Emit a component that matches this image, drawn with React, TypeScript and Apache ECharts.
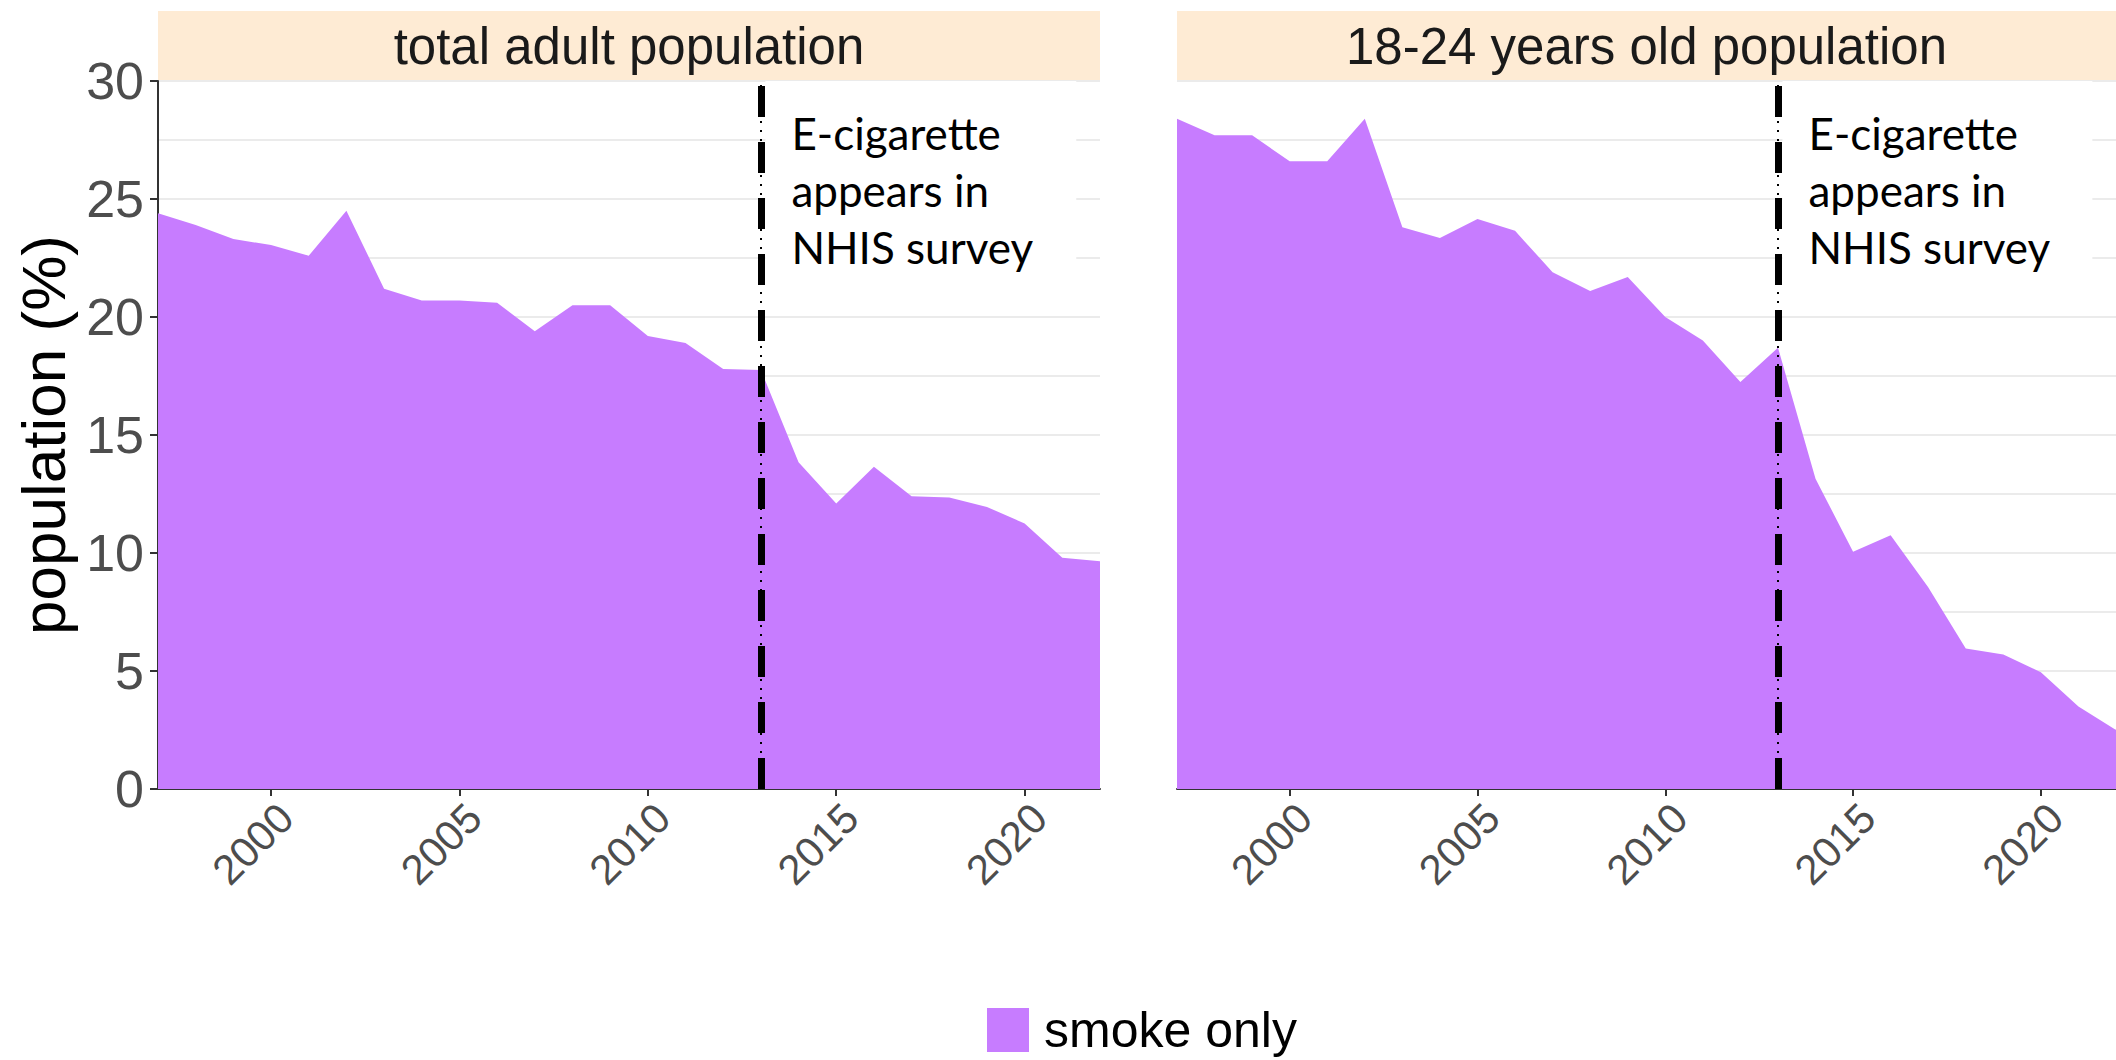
import React, { useEffect, useRef } from "react";
import * as echarts from "echarts";

const years = [
  1997, 1998, 1999, 2000, 2001, 2002, 2003, 2004, 2005, 2006, 2007, 2008, 2009,
  2010, 2011, 2012, 2013, 2014, 2015, 2016, 2017, 2018, 2019, 2020, 2021, 2022,
];
const adultValues = [
  24.4, 23.9, 23.3, 23.05, 22.6, 24.5, 21.2, 20.7, 20.7, 20.6, 19.4, 20.5, 20.5,
  19.2, 18.9, 17.8, 17.75, 13.85, 12.1, 13.65, 12.4, 12.35, 11.95, 11.25, 9.8, 9.65,
];
const youngValues = [
  28.4, 27.7, 27.7, 26.6, 26.6, 28.4, 23.8, 23.35, 24.15, 23.65, 21.9, 21.1, 21.7,
  20.0, 19.0, 17.25, 18.7, 13.15, 10.05, 10.75, 8.55, 5.95, 5.7, 4.95, 3.5, 2.5,
];
const panelTitles = ["total adult population", "18-24 years old population"];
const seriesName = "smoke only";
const xTickValues = [2000, 2005, 2010, 2015, 2020];
const eventYear = 2013;
const annotationText = "E-cigarette\nappears in\nNHIS survey";
const annotationBox = { x0: 2013.12, x1: 2021.37, y0: 21.1, y1: 30 };

const FILL = "#C77CFF";
const STRIP = "#FEEBD4";
const ARIAL = "'Liberation Sans', Arial, sans-serif";

const GRIDS = [
  { left: 158, top: 81, width: 942, height: 708 },
  { left: 1177, top: 81, width: 939, height: 708 },
];

export default function App() {
  const ref = useRef<HTMLDivElement>(null);

  useEffect(() => {
    document.body.style.margin = "0";
    if (!ref.current) return;
    const chart = echarts.init(ref.current, null, { renderer: "svg" });

    const valuesByPanel = [adultValues, youngValues];

    const xAxes = GRIDS.map((_, i) => ({
      type: "value",
      gridIndex: i,
      min: 1997,
      max: 2022,
      axisLine: { show: true, lineStyle: { color: "#333333", width: 2 } },
      axisTick: {
        show: true,
        customValues: xTickValues,
        length: 7,
        lineStyle: { color: "#333333", width: 2 },
      },
      axisLabel: {
        customValues: xTickValues,
        formatter: (v: number) => String(v),
        rotate: 45,
        verticalAlign: "top",
        fontSize: 42,
        fontFamily: ARIAL,
        color: "#4D4D4D",
        margin: 7,
      },
      splitLine: { show: false },
    }));

    const yAxes = GRIDS.map((_, i) => ({
      type: "value",
      gridIndex: i,
      min: 0,
      max: 30,
      interval: 5,
      name: i === 0 ? "population (%)" : "",
      nameLocation: "middle",
      nameRotate: 90,
      nameGap: 84,
      nameTextStyle: { fontSize: 62, fontFamily: ARIAL, color: "#000000" },
      axisLine: { show: i === 0, lineStyle: { color: "#333333", width: 2 } },
      axisTick: {
        show: i === 0,
        length: 8,
        lineStyle: { color: "#333333", width: 2 },
      },
      axisLabel: {
        show: i === 0,
        formatter: (v: number) => String(v),
        fontSize: 52,
        fontFamily: ARIAL,
        color: "#4D4D4D",
        margin: 14,
      },
      minorTick: { show: false, splitNumber: 2 },
      splitLine: { show: true, lineStyle: { color: "#EBEBEB", width: 2 } },
      minorSplitLine: { show: true, lineStyle: { color: "#EBEBEB", width: 2 } },
    }));

    const series = GRIDS.map((_, i) => ({
      type: "line",
      name: seriesName,
      xAxisIndex: i,
      yAxisIndex: i,
      data: years.map((y, k) => [y, valuesByPanel[i][k]]),
      symbol: "none",
      lineStyle: { width: 0, color: FILL },
      itemStyle: { color: FILL },
      areaStyle: { color: FILL, opacity: 1 },
      markArea: {
        silent: true,
        itemStyle: { color: "#FFFFFF" },
        label: {
          show: true,
          position: "insideTopLeft",
          distance: 0,
          offset: [26, 23],
          formatter: annotationText,
          fontFamily: "Lato, 'Open Sans', sans-serif",
          fontSize: 44,
          lineHeight: 57,
          color: "#000000",
          align: "left",
        },
        data: [
          [
            { coord: [annotationBox.x0, annotationBox.y1] },
            { coord: [annotationBox.x1, annotationBox.y0] },
          ],
        ],
      },
      markLine: {
        silent: true,
        symbol: "none",
        label: { show: false },
        data: [
          {
            xAxis: eventYear,
            lineStyle: { color: "#000000", width: 7, type: [31, 25], opacity: 1 },
          },
          {
            xAxis: eventYear,
            lineStyle: { color: "#000000", width: 2, type: [2, 7], opacity: 1 },
          },
        ],
      },
    }));

    const graphics: any[] = [];
    GRIDS.forEach((g, i) => {
      graphics.push({
        type: "rect",
        shape: { x: g.left, y: 11, width: g.width, height: 70 },
        style: { fill: STRIP },
        silent: true,
      });
      graphics.push({
        type: "text",
        x: g.left + g.width / 2,
        y: 46,
        style: {
          text: panelTitles[i],
          fontSize: 51,
          fontFamily: ARIAL,
          fill: "#1A1A1A",
          align: "center",
          verticalAlign: "middle",
        },
        silent: true,
      });
    });

    chart.setOption({
      animation: false,
      backgroundColor: "#FFFFFF",
      grid: GRIDS,
      xAxis: xAxes,
      yAxis: yAxes,
      series,
      legend: {
        data: [seriesName],
        left: 982,
        top: 1000,
        icon: "rect",
        itemWidth: 42,
        itemHeight: 44,
        itemGap: 14,
        textStyle: {
          fontSize: 50,
          fontFamily: ARIAL,
          color: "#000000",
          padding: [0, 0, 0, 10],
        },
      },
      graphic: graphics,
    });

    return () => chart.dispose();
  }, []);

  return <div ref={ref} style={{ width: 2116, height: 1060 }} />;
}
